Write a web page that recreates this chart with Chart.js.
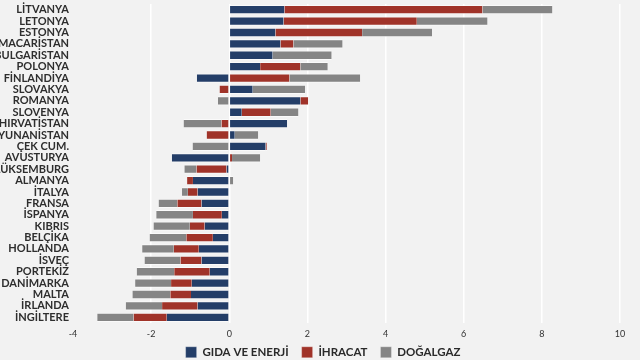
<!DOCTYPE html>
<html lang="tr">
<head>
<meta charset="UTF-8" />
<title>AB ülkeleri</title>
<script src="https://cdn.jsdelivr.net/npm/chart.js"></script>
<style>
  html, body { margin: 0; padding: 0; background: #f2f2f2; }
  .wrap { width: 640px; height: 360px; }
</style>
</head>
<body>
<div class="wrap"><canvas id="chart" width="640" height="360"></canvas></div>
<script>
// ülkeler (yukarıdan aşağıya)
const ulkeler = ["LİTVANYA", "LETONYA", "ESTONYA", "MACARİSTAN", "BULGARİSTAN", "POLONYA", "FİNLANDİYA",
  "SLOVAKYA", "ROMANYA", "SLOVENYA", "HIRVATİSTAN", "YUNANİSTAN", "ÇEK CUM.", "AVUSTURYA", "LÜKSEMBURG",
  "ALMANYA", "İTALYA", "FRANSA", "İSPANYA", "KIBRIS", "BELÇİKA", "HOLLANDA", "İSVEÇ", "PORTEKİZ",
  "DANİMARKA", "MALTA", "İRLANDA", "İNGİLTERE"];

const gidaEnerji = [1.41, 1.39, 1.18, 1.31, 1.11, 0.79, -0.83, 0.60, 1.82, 0.32, 1.48, 0.14, 0.93, -1.47,
  -0.07, -0.93, -0.81, -0.71, -0.19, -0.63, -0.42, -0.78, -0.71, -0.50, -0.96, -0.98, -0.81, -1.60];
const ihracat = [5.07, 3.41, 2.22, 0.33, 0, 1.03, 1.54, -0.25, 0.20, 0.74, -0.20, -0.58, 0.03, 0.07,
  -0.77, -0.15, -0.25, -0.62, -0.74, -0.38, -0.68, -0.64, -0.54, -0.91, -0.53, -0.53, -0.91, -0.85];
const dogalgaz = [1.79, 1.81, 1.79, 1.26, 1.51, 0.70, 1.81, 1.34, -0.29, 0.71, -0.97, 0.60, -0.94, 0.72,
  -0.31, 0.10, -0.15, -0.48, -0.94, -0.93, -0.94, -0.81, -0.92, -0.96, -0.92, -0.97, -0.93, -0.93];

const xTicks = [-4, -2, 0, 2, 4, 6, 8, 10];

Chart.defaults.font.family = "Lato, 'Open Sans', sans-serif";

// arka plan
const bgPlugin = {
  id: "bg",
  beforeDraw(chart) {
    const ctx = chart.ctx;
    ctx.save();
    ctx.fillStyle = "#f2f2f2";
    ctx.fillRect(0, 0, chart.width, chart.height);
    ctx.restore();
  }
};

// lejantı biraz yukarı ve sağa kaydır
const legendShift = {
  id: "legendShift",
  afterLayout(chart) {
    const lg = chart.legend;
    if (!lg) return;
    lg.top -= 10.5;
    lg.bottom -= 10.5;
    lg.left += 13;
    lg.right += 13;
  }
};

function seri(label, data, color) {
  return {
    label: label,
    data: data,
    backgroundColor: color,
    borderColor: "rgba(255,255,255,0.6)",
    borderWidth: { top: 1, bottom: 1, left: 0, right: 0 },
    borderSkipped: false,
    barPercentage: 0.82,
    categoryPercentage: 1
  };
}

new Chart(document.getElementById("chart"), {
  type: "bar",
  data: {
    labels: ulkeler,
    datasets: [
      seri("GIDA VE ENERJİ", gidaEnerji, "#243e68"),
      seri("İHRACAT", ihracat, "#a03329"),
      seri("DOĞALGAZ", dogalgaz, "#858585")
    ]
  },
  options: {
    indexAxis: "y",
    responsive: false,
    animation: false,
    layout: { padding: { top: 4, right: 20, bottom: -18.5, left: 0 } },
    scales: {
      x: {
        stacked: true,
        min: xTicks[0],
        max: xTicks[xTicks.length - 1],
        afterBuildTicks(scale) { scale.ticks = xTicks.map(v => ({ value: v })); },
        afterFit(scale) { scale.height = 21; },
        grid: {
          color: c => (c.tick && c.tick.value === xTicks[0]) ? "rgba(0,0,0,0)" : "#ffffff",
          lineWidth: 1.5,
          drawTicks: false
        },
        border: { display: false },
        ticks: { color: "#333", font: { size: 9 }, padding: 6 }
      },
      y: {
        stacked: true,
        grid: { display: false, drawTicks: false },
        border: { display: false },
        afterFit(scale) {
          scale.width = 73;
          scale.paddingTop = 0;
          scale.paddingBottom = 0;
        },
        ticks: { color: "#2e2e2e", font: { size: 11, weight: "bold" }, padding: 4, autoSkip: false }
      }
    },
    plugins: {
      legend: {
        position: "bottom",
        labels: {
          color: "#2a2a2a",
          boxWidth: 11,
          boxHeight: 11,
          padding: 13,
          font: { size: 11.5, weight: "bold" }
        }
      },
      tooltip: { enabled: false }
    }
  },
  plugins: [bgPlugin, legendShift]
});
</script>
</body>
</html>
